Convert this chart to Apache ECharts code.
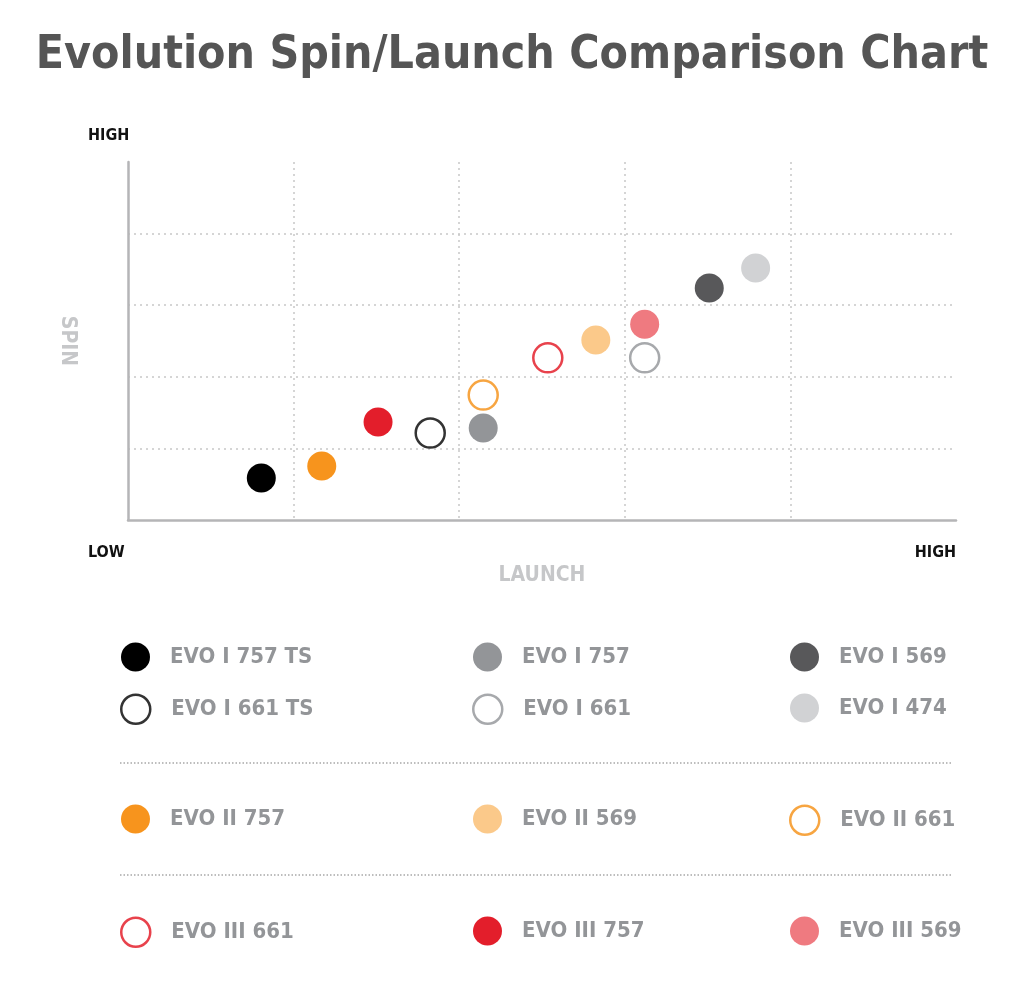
<!DOCTYPE html>
<html>
<head>
<meta charset="utf-8">
<script src="https://cdn.jsdelivr.net/npm/echarts@6/dist/echarts.min.js"></script>
<style>
  html, body { margin: 0; padding: 0; background: #fff; }
  #main { width: 1024px; height: 986px; }
</style>
</head>
<body>
<div id="main"></div>
<script>
// chart data (launch = x, spin = y, both on a 0..100 relative scale)
const names = ['EVO I 757 TS', 'EVO II 757', 'EVO III 757', 'EVO I 661 TS', 'EVO I 757', 'EVO II 661',
               'EVO III 661', 'EVO II 569', 'EVO I 661', 'EVO III 569', 'EVO I 569', 'EVO I 474'];
const launch = [16.1, 23.4, 30.2, 36.5, 42.9, 42.9, 50.7, 56.5, 62.4, 62.4, 70.2, 75.8];
const spin   = [11.7, 15.1, 27.4, 24.3, 25.7, 34.9, 45.3, 50.3, 45.3, 54.7, 64.8, 70.4];
const axisTicks = [0, 20, 40, 60, 80, 100];

// look of each marker
const colors = {
  'EVO I 757 TS': '#000000', 'EVO I 661 TS': '#333333', 'EVO I 757': '#939598', 'EVO I 661': '#a7a9ac',
  'EVO I 569': '#58585a', 'EVO I 474': '#d1d2d4', 'EVO II 757': '#f7941d', 'EVO II 569': '#fbc98a',
  'EVO II 661': '#f7a541', 'EVO III 661': '#e8424c', 'EVO III 757': '#e31e2b', 'EVO III 569': '#ef7a80'
};
const hollow = ['EVO I 661 TS', 'EVO I 661', 'EVO II 661', 'EVO III 661'];

// legend order as printed below the chart
const legendRows = [
  ['EVO I 757 TS', 'EVO I 757', 'EVO I 569'],
  ['EVO I 661 TS', 'EVO I 661', 'EVO I 474'],
  ['EVO II 757', 'EVO II 569', 'EVO II 661'],
  ['EVO III 661', 'EVO III 757', 'EVO III 569']
];
const rowY = [657, 708, 819, 931];
const colX = [121, 473, 790];

const FONT = '"Liberation Sans Narrow", "DejaVu Sans Condensed", sans-serif';

function styleOf(name) {
  if (hollow.indexOf(name) >= 0) {
    return { color: '#fff', borderColor: colors[name], borderWidth: 2.5, opacity: 1 };
  }
  return { color: colors[name], borderWidth: 0, opacity: 1 };
}

const series = names.map((n, i) => ({
  name: n,
  type: 'scatter',
  symbol: 'circle',
  symbolSize: 29,
  itemStyle: styleOf(n),
  data: [[launch[i], spin[i]]]
}));

const legends = [];
legendRows.forEach((row, r) => {
  row.forEach((n, c) => {
    const hol = hollow.indexOf(n) >= 0;
    legends.push({
      left: hol ? colX[c] - 1 : colX[c], top: rowY[r] - 14.5,
      padding: 0,
      icon: 'circle', itemWidth: 29, itemHeight: 29,
      selectedMode: false,
      data: [{ name: n, itemStyle: styleOf(n) }],
      textStyle: { fontFamily: FONT, fontWeight: 'bold', fontSize: 22, color: '#939598', padding: [0, 0, 0, hol ? 16 : 15] }
    });
  });
});

const chart = echarts.init(document.getElementById('main'));
const option = {
  animation: false,
  backgroundColor: '#fff',
  title: {
    text: 'Evolution Spin/Launch Comparison Chart',
    left: 'center', top: 28,
    textStyle: { fontFamily: FONT, fontWeight: 'bold', fontSize: 46, color: '#555555' }
  },
  grid: { left: 128, right: 68, top: 162, bottom: 466 },
  xAxis: {
    type: 'value', min: axisTicks[0], max: axisTicks[axisTicks.length - 1], interval: 20,
    name: 'LAUNCH', nameLocation: 'middle', nameGap: 45,
    nameTextStyle: { fontFamily: FONT, fontWeight: 'bold', fontSize: 21, color: '#c6c7c9' },
    axisLine: { show: true, lineStyle: { color: '#b5b5b7', width: 2.5 } },
    axisTick: { show: false }, axisLabel: { show: false },
    splitLine: { show: true, showMinLine: false, showMaxLine: false, lineStyle: { color: '#c8c8c8', type: [2, 4], width: 1.5 } }
  },
  yAxis: {
    type: 'value', min: axisTicks[0], max: axisTicks[axisTicks.length - 1], interval: 20,
    name: 'SPIN', nameLocation: 'middle', nameGap: 50, nameRotate: -90,
    nameTextStyle: { fontFamily: FONT, fontWeight: 'bold', fontSize: 21, color: '#c6c7c9' },
    axisLine: { show: true, lineStyle: { color: '#b5b5b7', width: 2.5 } },
    axisTick: { show: false }, axisLabel: { show: false },
    splitLine: { show: true, showMinLine: false, showMaxLine: false, lineStyle: { color: '#c8c8c8', type: [2, 4], width: 1.5 } }
  },
  legend: legends,
  graphic: [
    { type: 'text', left: 88, top: 128, style: { text: 'HIGH', fontFamily: FONT, fontWeight: 'bold', fontSize: 16, fill: '#111' } },
    { type: 'text', left: 88, top: 545, style: { text: 'LOW', fontFamily: FONT, fontWeight: 'bold', fontSize: 16, fill: '#111' } },
    { type: 'text', right: 68, top: 545, style: { text: 'HIGH', fontFamily: FONT, fontWeight: 'bold', fontSize: 16, fill: '#111' } },
    { type: 'line', shape: { x1: 120, y1: 763, x2: 952, y2: 763 }, style: { stroke: '#bdbdbd', lineWidth: 2, lineDash: [1.5, 2] } },
    { type: 'line', shape: { x1: 120, y1: 875, x2: 952, y2: 875 }, style: { stroke: '#bdbdbd', lineWidth: 2, lineDash: [1.5, 2] } }
  ],
  series: series
};
chart.setOption(option);
</script>
</body>
</html>
